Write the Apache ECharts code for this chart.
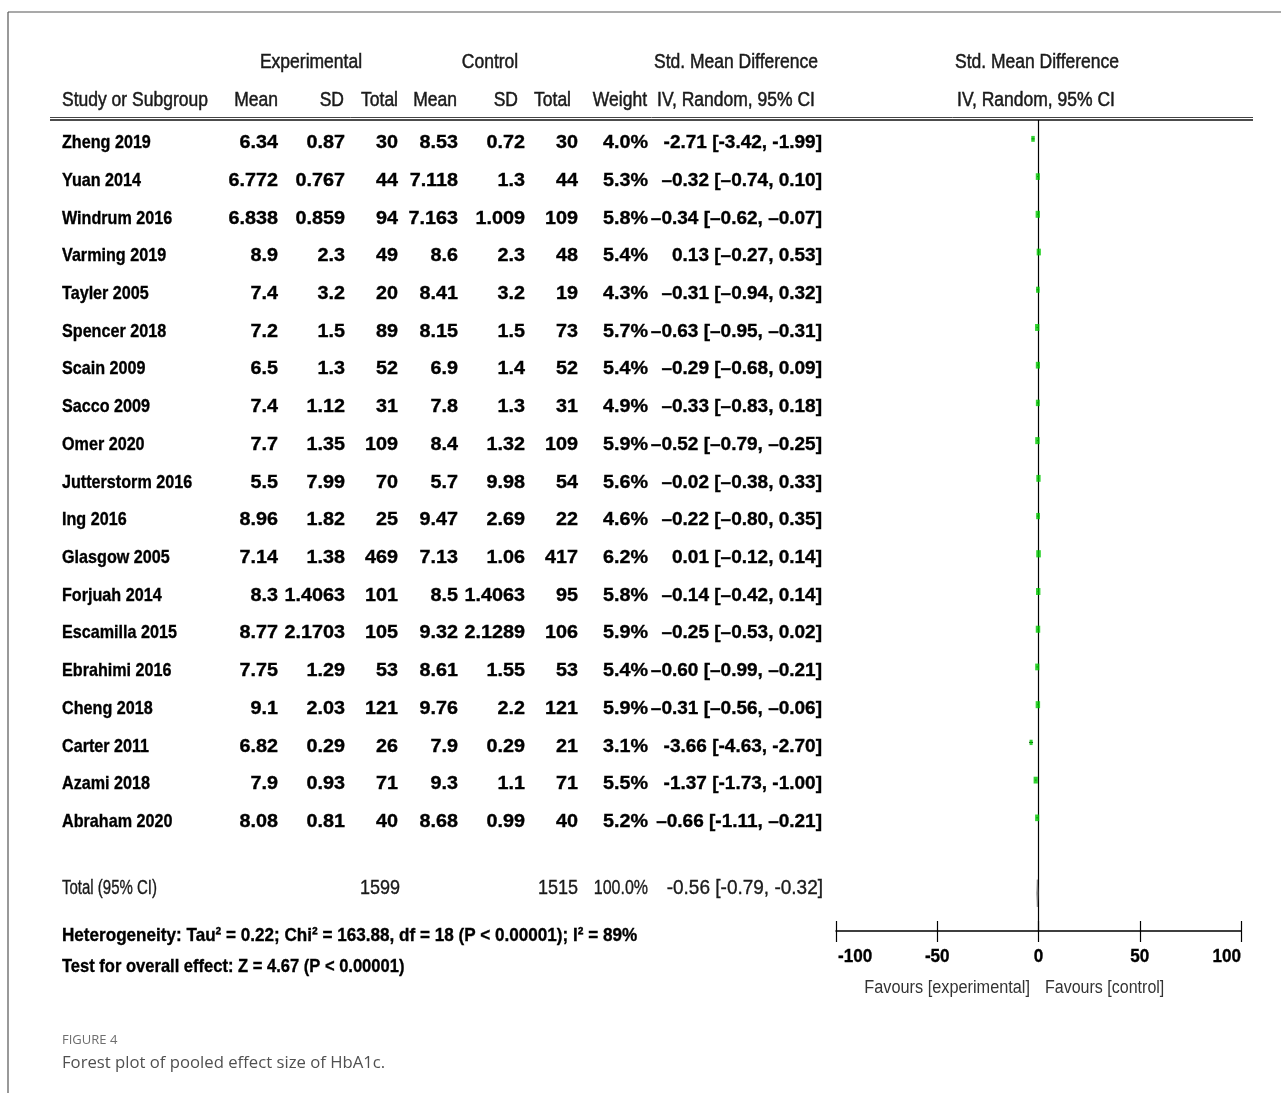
<!DOCTYPE html>
<html>
<head>
<meta charset="utf-8">
<title>Forest plot of pooled effect size of HbA1c</title>
<script src="https://cdn.jsdelivr.net/npm/echarts@6/dist/echarts.min.js"></script>
<style>
  html, body { margin: 0; padding: 0; background: #fff; }
  #chart { width: 1281px; height: 1093px; }
</style>
</head>
<body>
<div id="chart"></div>
<script>
// ---- Study data (HbA1c, standardised mean difference, random effects) ----
const studies = ["Zheng 2019", "Yuan 2014", "Windrum 2016", "Varming 2019", "Tayler 2005", "Spencer 2018",
  "Scain 2009", "Sacco 2009", "Omer 2020", "Jutterstorm 2016", "Ing 2016", "Glasgow 2005", "Forjuah 2014",
  "Escamilla 2015", "Ebrahimi 2016", "Cheng 2018", "Carter 2011", "Azami 2018", "Abraham 2020"];
const expMean = [6.34, 6.772, 6.838, 8.9, 7.4, 7.2, 6.5, 7.4, 7.7, 5.5, 8.96, 7.14, 8.3, 8.77, 7.75, 9.1, 6.82, 7.9, 8.08];
const expSD = [0.87, 0.767, 0.859, 2.3, 3.2, 1.5, 1.3, 1.12, 1.35, 7.99, 1.82, 1.38, 1.4063, 2.1703, 1.29, 2.03, 0.29, 0.93, 0.81];
const expN = [30, 44, 94, 49, 20, 89, 52, 31, 109, 70, 25, 469, 101, 105, 53, 121, 26, 71, 40];
const ctlMean = [8.53, 7.118, 7.163, 8.6, 8.41, 8.15, 6.9, 7.8, 8.4, 5.7, 9.47, 7.13, 8.5, 9.32, 8.61, 9.76, 7.9, 9.3, 8.68];
const ctlSD = [0.72, 1.3, 1.009, 2.3, 3.2, 1.5, 1.4, 1.3, 1.32, 9.98, 2.69, 1.06, 1.4063, 2.1289, 1.55, 2.2, 0.29, 1.1, 0.99];
const ctlN = [30, 44, 109, 48, 19, 73, 52, 31, 109, 54, 22, 417, 95, 106, 53, 121, 21, 71, 40];
const weights = [4.0, 5.3, 5.8, 5.4, 4.3, 5.7, 5.4, 4.9, 5.9, 5.6, 4.6, 6.2, 5.8, 5.9, 5.4, 5.9, 3.1, 5.5, 5.2];
const smd = [-2.71, -0.32, -0.34, 0.13, -0.31, -0.63, -0.29, -0.33, -0.52, -0.02, -0.22, 0.01, -0.14, -0.25, -0.60, -0.31, -3.66, -1.37, -0.66];
const ciLow = [-3.42, -0.74, -0.62, -0.27, -0.94, -0.95, -0.68, -0.83, -0.79, -0.38, -0.80, -0.12, -0.42, -0.53, -0.99, -0.56, -4.63, -1.73, -1.11];
const ciHigh = [-1.99, 0.10, -0.07, 0.53, 0.32, -0.31, 0.09, 0.18, -0.25, 0.33, 0.35, 0.14, 0.14, 0.02, -0.21, -0.06, -2.70, -1.00, -0.21];

// Pooled result
const totalExpN = 1599;
const totalCtlN = 1515;
const totalWeight = 100.0;
const totalSmd = -0.56;
const totalLow = -0.79;
const totalHigh = -0.32;

// Scale of the plot panel
const axisTicks = [-100, -50, 0, 50, 100];

// ---- Layout ----
const SANS = '"Liberation Sans", Arial, sans-serif';
const ROW_FONT = `bold 19px ${SANS}`;
const HEAD_FONT = `20px ${SANS}`;
const HEAD_SX = 0.875;               // horizontal squeeze giving a condensed face
const NAME_SX = 0.85;
const NUM_SX = 1.04;
const GRID_TOP = 120, GRID_H = 811;
const Y_MIN = -0.5, Y_MAX = 21;
const TOTAL_ROW = 20;               // position of the pooled row on the row axis
const rowIdx = studies.map((_, i) => i);

function dash(v) {
  if (v >= 0) return v.toFixed(2);
  return (Math.abs(v) < 1 ? '\u2013' : '-') + Math.abs(v).toFixed(2);
}
const ciText = smd.map((v, i) => `${dash(v)} [${dash(ciLow[i])}, ${dash(ciHigh[i])}]`);

// Table columns: x is the anchor of the text in the table panel
const tableColumns = [
  { x: 62,  align: 'left',  sx: NAME_SX, values: studies },
  { x: 278, align: 'right', sx: NUM_SX, values: expMean.map(String) },
  { x: 345, align: 'right', sx: NUM_SX, values: expSD.map(String) },
  { x: 398, align: 'right', sx: NUM_SX, values: expN.map(String) },
  { x: 458, align: 'right', sx: NUM_SX, values: ctlMean.map(String) },
  { x: 525, align: 'right', sx: NUM_SX, values: ctlSD.map(String) },
  { x: 578, align: 'right', sx: NUM_SX, values: ctlN.map(String) },
  { x: 648, align: 'right', sx: NUM_SX, values: weights.map(w => w.toFixed(1) + '%') },
  { x: 822, align: 'right', sx: 1.0, values: ciText }
];

const totalColumns = [
  { x: 62,  align: 'left',  sx: 0.75, text: 'Total (95% CI)' },
  { x: 400, align: 'right', sx: 0.9, text: String(totalExpN) },
  { x: 578, align: 'right', sx: 0.9, text: String(totalCtlN) },
  { x: 648, align: 'right', sx: 0.8, text: totalWeight.toFixed(1) + '%' },
  { x: 823, align: 'right', sx: 0.95, text: `${totalSmd.toFixed(2)} [${totalLow.toFixed(2)}, ${totalHigh.toFixed(2)}]` }
];

function textEl(text, x, y, align, font, fill, sx, extra) {
  return {
    type: 'text', silent: true, x, y, scaleX: sx,
    style: Object.assign({ text, font, fill, align, textAlign: align, verticalAlign: 'middle', textVerticalAlign: 'middle' }, extra || {})
  };
}
const boldEdge = { stroke: '#000', lineWidth: 0.35 };
const headEdge = { stroke: '#1a1a1a', lineWidth: 0.5 };

const series = [];

// study rows as text cells placed on the row axis
tableColumns.forEach(col => {
  series.push({
    type: 'custom', xAxisIndex: 0, yAxisIndex: 0, silent: true,
    data: rowIdx.map(i => [col.x, i]),
    renderItem: (params, api) => {
      const p = api.coord([api.value(0), api.value(1)]);
      return textEl(col.values[params.dataIndex], p[0], p[1] + 4, col.align, ROW_FONT, '#000', col.sx, boldEdge);
    }
  });
});

// pooled row text
series.push({
  type: 'custom', xAxisIndex: 0, yAxisIndex: 0, silent: true,
  data: totalColumns.map(c => [c.x, TOTAL_ROW]),
  renderItem: (params, api) => {
    const c = totalColumns[params.dataIndex];
    const p = api.coord([api.value(0), api.value(1)]);
    return textEl(c.text, p[0], p[1] - 5, c.align, HEAD_FONT, '#1a1a1a', c.sx, { stroke: '#1a1a1a', lineWidth: 0.35 });
  }
});

// zero line of the effect scale
series.push({
  type: 'custom', xAxisIndex: 1, yAxisIndex: 1, silent: true, z: 2,
  data: [[0]],
  renderItem: (params, api) => {
    const a = api.coord([api.value(0), Y_MIN]);
    const b = api.coord([api.value(0), Y_MAX]);
    return { type: 'line', shape: { x1: a[0], y1: a[1], x2: b[0], y2: b[1] }, style: { stroke: '#000', lineWidth: 1.2 } };
  }
});

// confidence interval whiskers
series.push({
  type: 'custom', xAxisIndex: 1, yAxisIndex: 1, silent: true, z: 3,
  data: rowIdx.map(i => [ciLow[i], ciHigh[i], i]),
  renderItem: (params, api) => {
    const a = api.coord([api.value(0), api.value(2)]);
    const b = api.coord([api.value(1), api.value(2)]);
    return { type: 'line', shape: { x1: a[0], y1: a[1], x2: b[0], y2: b[1] }, style: { stroke: '#000', lineWidth: 1 } };
  }
});

// study point estimates, sized by weight
series.push({
  type: 'scatter', xAxisIndex: 1, yAxisIndex: 1, silent: true, z: 5,
  symbol: 'rect',
  symbolSize: (val, p) => [1.5 + weights[p.dataIndex] * 0.5, 3.5 + weights[p.dataIndex] * 0.6],
  itemStyle: { color: '#00c800' },
  data: rowIdx.map(i => [smd[i], i])
});

// pooled diamond
series.push({
  type: 'custom', xAxisIndex: 1, yAxisIndex: 1, silent: true, z: 5,
  data: [[totalLow, totalSmd, totalHigh, TOTAL_ROW]],
  renderItem: (params, api) => {
    const y = api.value(3);
    const left = api.coord([api.value(0), y]);
    const right = api.coord([api.value(2), y]);
    const top = api.coord([api.value(1), y - 0.36]);
    const bot = api.coord([api.value(1), y + 0.36]);
    return {
      type: 'polygon',
      shape: { points: [left, top, right, bot] },
      style: { fill: '#444', stroke: '#888', lineWidth: 1 }
    };
  }
});

// tick labels of the effect scale
series.push({
  type: 'custom', xAxisIndex: 1, yAxisIndex: 1, silent: true,
  data: axisTicks.map(v => [v]),
  renderItem: (params, api) => {
    const v = api.value(0);
    const p = api.coord([v, Y_MAX]);
    const align = v === axisTicks[0] ? 'left' : (v === axisTicks[axisTicks.length - 1] ? 'right' : 'center');
    return textEl(String(v), p[0] + (align === 'left' ? 2 : 0), p[1] + 26, align, ROW_FONT, '#000', 0.9, boldEdge);
  }
});

const headers = [
  ['Experimental', 311, 62, 'center'],
  ['Control', 490, 62, 'center'],
  ['Std. Mean Difference', 736, 62, 'center'],
  ['Std. Mean Difference', 1037, 62, 'center'],
  ['Study or Subgroup', 62, 100, 'left'],
  ['Mean', 278, 100, 'right'],
  ['SD', 344, 100, 'right'],
  ['Total', 398, 100, 'right'],
  ['Mean', 457, 100, 'right'],
  ['SD', 518, 100, 'right'],
  ['Total', 571, 100, 'right'],
  ['Weight', 647, 100, 'right'],
  ['IV, Random, 95% CI', 736, 100, 'center'],
  ['IV, Random, 95% CI', 1036, 100, 'center']
].map(h => textEl(h[0], h[1], h[2], h[3], HEAD_FONT, '#1a1a1a', HEAD_SX, headEdge));

const graphics = [
  // frame
  { type: 'line', silent: true, shape: { x1: 8, y1: 12, x2: 1281, y2: 12 }, style: { stroke: '#555', lineWidth: 1.2 } },
  { type: 'line', silent: true, shape: { x1: 8, y1: 12, x2: 8, y2: 1093 }, style: { stroke: '#555', lineWidth: 1.2 } },
  // header rule
  { type: 'line', silent: true, shape: { x1: 50, y1: 117.5, x2: 1253, y2: 117.5 }, style: { stroke: '#444', lineWidth: 1 } },
  { type: 'line', silent: true, shape: { x1: 50, y1: 120, x2: 1253, y2: 120 }, style: { stroke: '#111', lineWidth: 1.5 } },
  ...headers,
  textEl('Heterogeneity: Tau\u00b2 = 0.22; Chi\u00b2 = 163.88, df = 18 (P < 0.00001); I\u00b2 = 89%', 62, 936, 'left', ROW_FONT, '#000', 0.9, boldEdge),
  textEl('Test for overall effect: Z = 4.67 (P < 0.00001)', 62, 967, 'left', ROW_FONT, '#000', 0.87, boldEdge),
  textEl('Favours [experimental]', 1030, 988, 'right', `18px ${SANS}`, '#333', 0.905),
  textEl('Favours [control]', 1045, 988, 'left', `18px ${SANS}`, '#333', 0.89),
  textEl('FIGURE 4', 62, 1040, 'left', `13px "Open Sans", "Noto Sans", sans-serif`, '#6e6e6e', 1),
  textEl('Forest plot of pooled effect size of HbA1c.', 62, 1063, 'left', `16.7px "Open Sans", "Noto Sans", sans-serif`, '#505050', 1)
];

const chart = echarts.init(document.getElementById('chart'), null, { renderer: 'canvas' });
chart.setOption({
  animation: false,
  backgroundColor: '#fff',
  grid: [
    { left: 0, width: 1281, top: GRID_TOP, height: GRID_H },
    { left: 836, width: 405, top: GRID_TOP, height: GRID_H }
  ],
  xAxis: [
    { gridIndex: 0, type: 'value', min: 0, max: 1281, show: false },
    {
      gridIndex: 1, type: 'value', min: axisTicks[0], max: axisTicks[axisTicks.length - 1], interval: 50,
      position: 'bottom',
      axisLine: { show: true, onZero: false, lineStyle: { color: '#000', width: 1.5 } },
      axisTick: { show: true, inside: false, length: 11, lineStyle: { color: '#000', width: 1.2 } },
      axisLabel: { show: false },
      splitLine: { show: false }
    },
    {
      gridIndex: 1, type: 'value', min: axisTicks[0], max: axisTicks[axisTicks.length - 1], interval: 50,
      position: 'bottom',
      axisLine: { show: false, onZero: false },
      axisTick: { show: true, inside: true, length: 10, lineStyle: { color: '#000', width: 1.2 } },
      axisLabel: { show: false },
      splitLine: { show: false }
    }
  ],
  yAxis: [
    { gridIndex: 0, type: 'value', inverse: true, min: Y_MIN, max: Y_MAX, show: false },
    { gridIndex: 1, type: 'value', inverse: true, min: Y_MIN, max: Y_MAX, show: false }
  ],
  series,
  graphic: graphics
});
</script>
</body>
</html>
